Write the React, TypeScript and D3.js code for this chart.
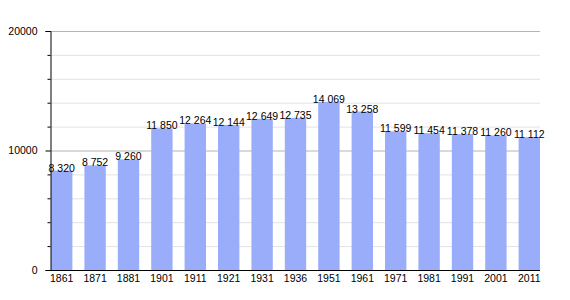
import * as d3 from "d3";
import React, { useEffect, useRef } from "react";

const years = ["1861", "1871", "1881", "1901", "1911", "1921", "1931", "1936", "1951", "1961", "1971", "1981", "1991", "2001", "2011"];
const population = [8320, 8752, 9260, 11850, 12264, 12144, 12649, 12735, 14069, 13258, 11599, 11454, 11378, 11260, 11112];
const majorTicks = [0, 10000, 20000];

function App() {
  const ref = useRef<SVGSVGElement>(null);

  const width = 570;
  const height = 300;
  const margin = { top: 31, right: 30, bottom: 30, left: 50 };

  useEffect(() => {
    const svg = d3.select(ref.current);
    svg.selectAll("*").remove();

    const x = d3
      .scaleBand()
      .domain(years)
      .range([margin.left + 1, width - margin.right])
      .paddingInner(0.36)
      .paddingOuter(0);

    const y = d3
      .scaleLinear()
      .domain([0, 20000])
      .range([height - margin.bottom, margin.top]);

    const fr = d3.formatLocale({ decimal: ",", thousands: " ", grouping: [3], currency: ["", ""] });
    const fmt = fr.format(",d");

    const minor = d3.range(0, 20001, 2000).filter((d) => d % 10000 !== 0);

    // minor grid
    svg
      .append("g")
      .selectAll("line")
      .data(minor)
      .enter()
      .append("line")
      .attr("x1", margin.left)
      .attr("x2", width - margin.right)
      .attr("y1", (d) => y(d) + 0.5)
      .attr("y2", (d) => y(d) + 0.5)
      .attr("stroke", "#e2e2e2");

    // major grid
    svg
      .append("g")
      .selectAll("line")
      .data(majorTicks.slice(1))
      .enter()
      .append("line")
      .attr("x1", margin.left)
      .attr("x2", width - margin.right)
      .attr("y1", (d) => y(d) + 0.5)
      .attr("y2", (d) => y(d) + 0.5)
      .attr("stroke", "#b4b4b4");

    // bars
    svg
      .append("g")
      .selectAll("rect")
      .data(population)
      .enter()
      .append("rect")
      .attr("x", (d, i) => x(years[i]) as number)
      .attr("width", x.bandwidth())
      .attr("y", (d) => y(d))
      .attr("height", (d) => y(0) - y(d))
      .attr("fill", "#9aadfa");

    // value labels
    svg
      .append("g")
      .selectAll("text")
      .data(population)
      .enter()
      .append("text")
      .attr("x", (d, i) => (x(years[i]) as number) + x.bandwidth() / 2)
      .attr("y", (d) => y(d) + 1)
      .attr("text-anchor", "middle")
      .attr("font-family", "Liberation Sans, Arial, sans-serif")
      .attr("font-size", 10.5)
      .attr("fill", "#000")
      .text((d) => fmt(d));

    // y axis
    const yAxis = d3
      .axisLeft(y)
      .tickValues(majorTicks)
      .tickSize(5)
      .tickPadding(8)
      .tickFormat((d) => String(d));
    const gy = svg
      .append("g")
      .attr("transform", `translate(${margin.left + 0.5},0)`)
      .call(yAxis);
    gy.select(".domain").attr("stroke", "#000");
    gy.selectAll("text")
      .attr("font-family", "Liberation Sans, Arial, sans-serif")
      .attr("font-size", 10.5)
      .attr("fill", "#000");
    gy.selectAll(".minor")
      .data(minor)
      .enter()
      .append("line")
      .attr("class", "minor")
      .attr("x1", -3)
      .attr("x2", 0)
      .attr("y1", (d) => y(d) + 0.5)
      .attr("y2", (d) => y(d) + 0.5)
      .attr("stroke", "#000");

    // x axis
    const xAxis = d3.axisBottom(x).tickSize(0).tickPadding(4);
    const gx = svg
      .append("g")
      .attr("transform", `translate(0,${y(0) + 0.5})`)
      .call(xAxis);
    gx.select(".domain").remove();
    gx.append("line")
      .attr("x1", margin.left - 4)
      .attr("x2", width - margin.right)
      .attr("stroke", "#000");
    gx.selectAll("text")
      .attr("font-family", "Liberation Sans, Arial, sans-serif")
      .attr("font-size", 10.5)
      .attr("fill", "#000");
  }, []);

  return (
    <div style={{ margin: -8 }}>
      <svg ref={ref} width={width} height={height} style={{ display: "block", background: "#fff" }} />
    </div>
  );
}

export default App;
